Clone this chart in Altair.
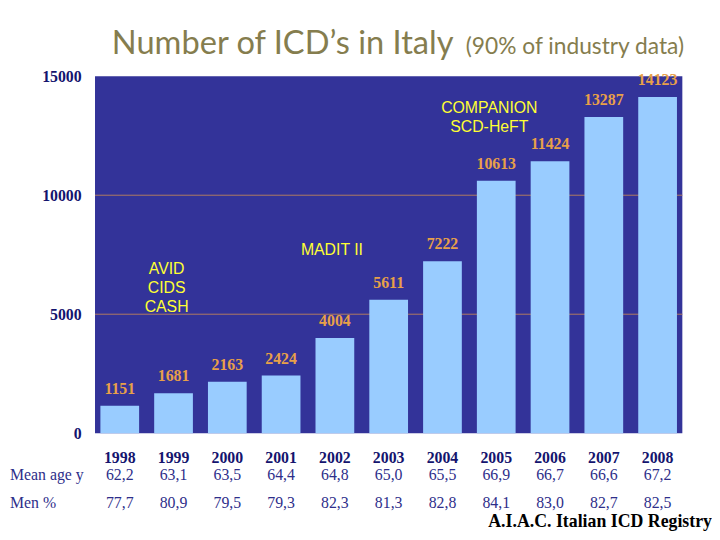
import altair as alt
import pandas as pd

years = ["1998", "1999", "2000", "2001", "2002", "2003", "2004", "2005", "2006", "2007", "2008"]
icds = [1151, 1681, 2163, 2424, 4004, 5611, 7222, 10613, 11424, 13287, 14123]
mean_age = ["62,2", "63,1", "63,5", "64,4", "64,8", "65,0", "65,5", "66,9", "66,7", "66,6", "67,2"]
men_pct = ["77,7", "80,9", "79,5", "79,3", "82,3", "81,3", "82,8", "84,1", "83,0", "82,7", "82,5"]
grid_values = [5000, 10000]
y_ticks = [0, 5000, 10000, 15000]

ann_text = ["AVID", "CIDS", "CASH", "MADIT II", "COMPANION", "SCD-HeFT"]
ann_year = ["1999", "1999", "1999", "2002", "2005", "2005"]
ann_value = [6913, 6117, 5321, 7709, 13659, 12863]
ann_dx = [-7, -7, -7, -3, -7, -7]

title_main = "Number of ICD\u2019s in Italy"
title_sub = "(90% of industry data)"
source = "A.I.A.C. Italian ICD Registry"
row_labels = ["Mean age y", "Men %"]

df = pd.DataFrame({"year": years, "icds": icds, "age": mean_age, "men": men_pct})
ann = pd.DataFrame({"t": ann_text, "year": ann_year, "v": ann_value, "dx": ann_dx})

W, H = 594, 361
TOP = 66
OFF = 8 + TOP  # page y of plot top
navy = "#14146e"
rowcol = "#2e2e8a"
xscale = alt.Scale(domain=years, paddingInner=0.28, paddingOuter=0.1)
yscale = alt.Scale(domain=[0, 15000], nice=False)

base = alt.Chart(df)

grid = alt.Chart(pd.DataFrame({"g": grid_values})).mark_rule(
    color="#b07a60", strokeWidth=1
).encode(y=alt.Y("g:Q", scale=yscale))

bars = base.mark_bar(color="#99ccff").encode(
    x=alt.X("year:N", scale=xscale, axis=None, sort=years),
    y=alt.Y("icds:Q", scale=yscale,
            axis=alt.Axis(values=y_ticks, title=None, grid=False, ticks=False, domain=False,
                          labelFont="Liberation Serif", labelFontWeight="bold",
                          labelFontSize=16, labelColor=navy, labelPadding=14,
                          format="d")),
)

bar_labels = base.mark_text(
    font="Liberation Serif", fontWeight="bold", fontSize=16, color="#e8a048",
    baseline="middle", dy=-17
).encode(x=alt.X("year:N", scale=xscale, sort=years), y=alt.Y("icds:Q", scale=yscale), text="icds:Q")

ann_layers = []
for d in sorted(set(ann_dx)):
    sub = ann[ann.dx == d]
    ann_layers.append(
        alt.Chart(sub).mark_text(
            font="Liberation Sans", fontSize=16, color="#ffff33", baseline="middle", dx=d
        ).encode(
            x=alt.X("year:N", scale=xscale, sort=years),
            y=alt.Y("v:Q", scale=yscale),
            text="t:N",
        )
    )

year_text = base.mark_text(
    font="Liberation Serif", fontWeight="bold", fontSize=16, color=navy, baseline="middle"
).encode(x=alt.X("year:N", scale=xscale, sort=years), y=alt.value(460 - OFF), text="year:N")

age_text = base.mark_text(
    font="Liberation Serif", fontSize=16, color=rowcol, baseline="middle"
).encode(x=alt.X("year:N", scale=xscale, sort=years), y=alt.value(477 - OFF), text="age:N")

men_text = base.mark_text(
    font="Liberation Serif", fontSize=16, color=rowcol, baseline="middle"
).encode(x=alt.X("year:N", scale=xscale, sort=years), y=alt.value(506 - OFF), text="men:N")

row_df = pd.DataFrame({"t": row_labels, "yy": [477 - OFF, 506 - OFF]})
rows = alt.Chart(row_df).mark_text(
    font="Liberation Serif", fontSize=16, color=rowcol, baseline="middle", align="left"
).encode(x=alt.value(-86), y=alt.Y("yy:Q", scale=None), text="t:N")

src = alt.Chart(pd.DataFrame({"t": [source]})).mark_text(
    font="Liberation Serif", fontWeight="bold", fontSize=18, color="#000000",
    baseline="middle", align="right"
).encode(x=alt.value(624), y=alt.value(525 - OFF), text="t:N")

t1 = alt.Chart(pd.DataFrame({"t": [title_main]})).mark_text(
    font="Lato", fontSize=33, color="#857d4e", baseline="alphabetic", align="left"
).encode(x=alt.value(17), y=alt.value(52 - OFF), text="t:N")

t2 = alt.Chart(pd.DataFrame({"t": [title_sub]})).mark_text(
    font="Lato", fontSize=23, color="#857d4e", baseline="alphabetic", align="left"
).encode(x=alt.value(375), y=alt.value(52 - OFF), text="t:N")

chart = alt.layer(
    grid, bars, bar_labels, *ann_layers, year_text, age_text, men_text, rows, src, t1, t2
).properties(
    width=W, height=H,
    autosize=alt.AutoSizeParams(type="none"),
    padding={"left": 88, "top": TOP, "right": 30, "bottom": 532 - TOP - H},
).configure_view(fill="#333399", strokeWidth=0)

chart.save("out.html", embed_options={"renderer": "svg", "actions": False})
